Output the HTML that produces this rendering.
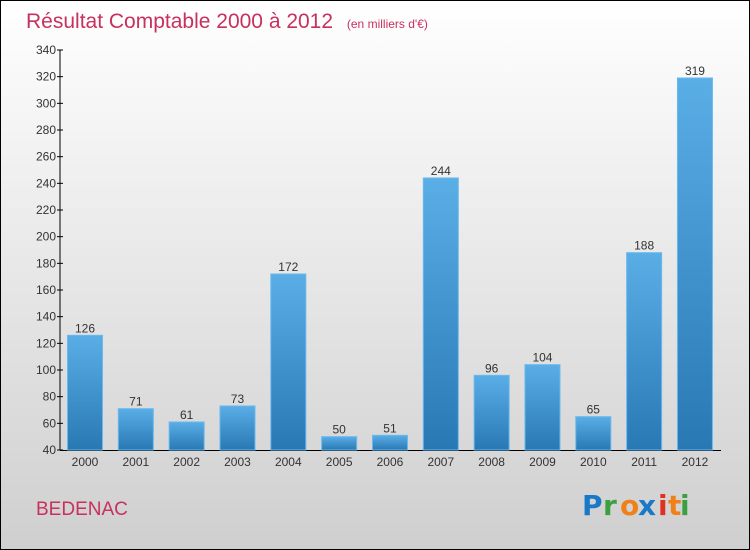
<!DOCTYPE html>
<html><head><meta charset="utf-8"><style>
body{margin:0}
svg{display:block;font-family:"Liberation Sans",sans-serif}
</style></head><body>
<svg id="chart" width="750" height="550" xmlns="http://www.w3.org/2000/svg">
<defs>
<linearGradient id="bg" x1="0" y1="0" x2="0" y2="1"><stop offset="0" stop-color="#ffffff"/><stop offset="1" stop-color="#cfcfcf"/></linearGradient>
<linearGradient id="bar" x1="0" y1="0" x2="0" y2="1"><stop offset="0" stop-color="#5aaee6"/><stop offset="1" stop-color="#2878b4"/></linearGradient>
</defs>
<rect x="0.5" y="0.5" width="749" height="549" fill="url(#bg)" stroke="#000"/>
<text x="26" y="28" font-size="21" fill="#c8305e">Résultat Comptable 2000 à 2012 <tspan font-size="12" dx="8">(en milliers d'€)</tspan></text>
<text x="36" y="515" font-size="19" fill="#c8305e">BEDENAC</text>
<g font-size="28" font-weight="bold" font-family="'DejaVu Sans',sans-serif">
<text x="582" y="515" fill="#1a78c8">P</text><text x="603" y="515" fill="#3aa040">r</text><text x="620" y="515" fill="#f08018">o</text><text x="638" y="515" fill="#1a78c8">x</text><text x="658" y="515" fill="#e03020">i</text><text x="668" y="515" fill="#f08018">t</text><text x="680" y="515" fill="#3aa040">i</text>
</g>
<g id="axes"></g>
<g id="bars"></g>
</svg>
<script>
const categories=["2000","2001","2002","2003","2004","2005","2006","2007","2008","2009","2010","2011","2012"];
const values=[126,71,61,73,172,50,51,244,96,104,65,188,319];
const yTicks=[40,60,80,100,120,140,160,180,200,220,240,260,280,300,320,340];
const NS="http://www.w3.org/2000/svg";
const y=v=>450-(v-40)*400/300;
const x=i=>85+i*50.83;
function mk(tag,attrs,parent){const e=document.createElementNS(NS,tag);for(const k in attrs)e.setAttribute(k,attrs[k]);parent.appendChild(e);return e;}
const ax=document.getElementById('axes'),bg=document.getElementById('bars');
const yl=mk('line',{x1:60,y1:50,x2:60,y2:450,stroke:'#000'},ax);


const xl=mk('line',{x1:60,y1:450.5,x2:721,y2:450.5,stroke:'#000'},ax);


yTicks.forEach(t=>{
 const l=mk('line',{x1:57,y1:y(t),x2:63,y2:y(t),stroke:'#000'},ax);
 
 
 const tx=mk('text',{x:56,y:y(t)+4,'font-size':12,'text-anchor':'end',fill:'#333'},ax);
 tx.textContent=t;
 
 
});
categories.forEach((c,i)=>{
 const v=values[i];
 const r=mk('rect',{x:x(i)-17.5,y:y(v),width:35,height:450-y(v),fill:'url(#bar)',stroke:'#6ab8ee','stroke-width':1},bg);
 
 
 const vl=mk('text',{x:x(i),y:y(v)-3,'font-size':12,'text-anchor':'middle',fill:'#333'},bg);
 vl.textContent=v;
 
 
 const xlab=mk('text',{x:x(i),y:466,'font-size':12,'text-anchor':'middle',fill:'#333'},bg);
 xlab.textContent=c;
 
 
});
</script>
</body></html>
